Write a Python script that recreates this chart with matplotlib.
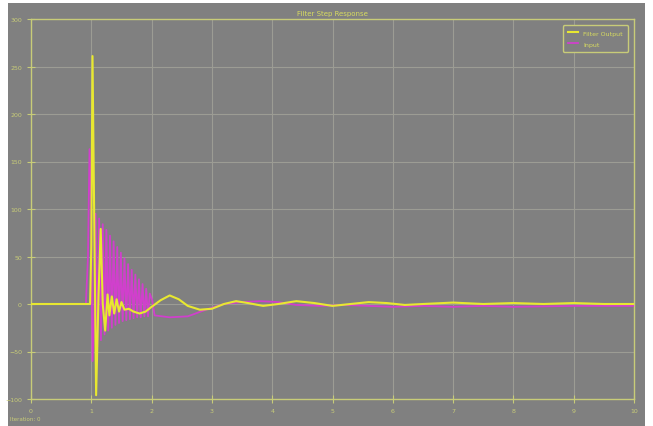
import matplotlib
matplotlib.use("Agg")
import matplotlib.pyplot as plt
from matplotlib.patches import Rectangle

# yellow trace (filter output)
out_t = [0, 0.98, 1.0, 1.02, 1.05, 1.08, 1.12, 1.156, 1.19, 1.23, 1.27, 1.30, 1.34,
         1.38, 1.42, 1.46, 1.50, 1.55, 1.62, 1.70, 1.80, 1.90, 2.0, 2.15, 2.3, 2.45,
         2.6, 2.8, 3.0, 3.2, 3.4, 3.6, 3.85, 4.1, 4.4, 4.7, 5.0, 5.3, 5.6, 5.9, 6.2,
         6.5, 7.0, 7.5, 8.0, 8.5, 9.0, 9.5, 10.0]
out_v = [0, 0, 60, 261, 80, -96, 10, 79, 0, -28, 10, -12, 8,
         -10, 5, -8, 2, -6, -5, -8, -10, -8, -3, 4, 9, 5,
         -2, -6, -5, 0, 3, 1, -2, 0, 3, 1, -2, 0, 2, 1, -1,
         0, 1.5, 0, 1, 0, 1, 0, 0]

# magenta trace (input)
in_t = [0, 0.91, 0.945, 0.97, 0.995, 1.02, 1.045,
        1.07, 1.10, 1.13, 1.16, 1.19, 1.22, 1.25, 1.28, 1.31, 1.34, 1.37, 1.40,
        1.43, 1.46, 1.49, 1.52, 1.55, 1.58, 1.61, 1.64, 1.67, 1.70, 1.73, 1.76,
        1.79, 1.82, 1.85, 1.88, 1.91, 1.94, 1.97, 2.01, 2.05,
        2.3, 2.6, 2.9, 3.2, 3.5, 3.8, 4.1, 4.4, 4.8, 5.2, 5.6, 6.0, 6.5, 7.0,
        7.5, 8.0, 9.0, 10.0]
in_v = [0, 0, 50, 163, 110, -60, -20,
        95, -45, 90, -38, 84, -32, 78, -28, 72, -25, 66, -22,
        60, -20, 54, -18, 48, -17, 42, -16, 36, -15, 31, -14,
        26, -14, 21, -13, 16, -13, 11, 4, -12,
        -14, -13, -6, 0, 2, 3, 2, -1, -2, -1, -2, -3, -2, -3,
        -2, -3, -2, -2]

x_ticks = [0, 1, 2, 3, 4, 5, 6, 7, 8, 9, 10]
y_ticks = [-100, -50, 0, 50, 100, 150, 200, 250, 300]

bg = "#808080"
fg = "#c8cc78"
grid_c = "#9c9c94"

fig = plt.figure(figsize=(6.53, 4.27), dpi=100, facecolor="white")
fig.patches.append(Rectangle((8 / 653, 0), 637 / 653, 423 / 427,
                             transform=fig.transFigure, facecolor=bg,
                             edgecolor="none", zorder=-10))
ax = fig.add_axes([31 / 653, 1 - 400 / 427, 603 / 653, 380 / 427])
ax.set_facecolor(bg)

ax.plot(in_t, in_v, color="#d040cc", lw=1.3, label="Input", zorder=3)
ax.plot(out_t, out_v, color="#e8e830", lw=1.5, label="Filter Output", zorder=4)

ax.set_xlim(0, 10)
ax.set_ylim(-100, 300)
ax.set_xticks(x_ticks)
ax.set_yticks(y_ticks)
ax.grid(True, color=grid_c, lw=0.8)
for s in ax.spines.values():
    s.set_color(fg)
    s.set_linewidth(1.0)
ax.tick_params(colors=fg, labelsize=4.5, direction="inout", length=6, width=0.8)

ax.set_title("Filter Step Response", color="#d8dc60", fontsize=5, pad=3)

handles, labels = ax.get_legend_handles_labels()
leg = ax.legend(handles[::-1], labels[::-1], loc="upper right", fontsize=4.5,
                facecolor=bg, edgecolor=fg, labelcolor="#d8dc60",
                handlelength=1.6, borderpad=0.8, labelspacing=0.9,
                borderaxespad=1.0, framealpha=1)

fig.text(10 / 653, 1 - 420 / 427, "Iteration: 0", color=fg, fontsize=4,
         va="center")

fig.savefig("out.png", dpi=100, facecolor=fig.get_facecolor())
